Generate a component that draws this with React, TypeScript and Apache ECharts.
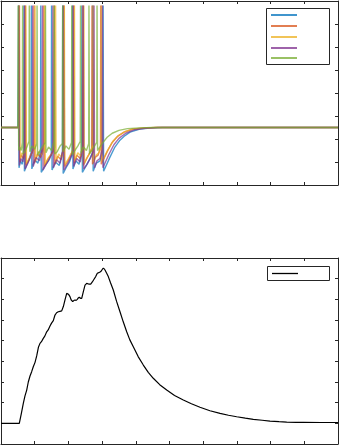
import React, { useEffect, useRef } from "react";
import * as echarts from "echarts";

// ---------- Top panel: membrane potential traces ----------
const traceColors = ["#0072BD", "#D95319", "#EDB120", "#7E2F8E", "#77AC30"];
const restV = -50;
const stimOnset = 50;
const spikePeak = 56;

const blueSpikes = [52, 68, 90, 118, 150, 183, 212, 240, 272, 303];
const blueTroughs = [-85, -88, -86, -89, -87, -90, -86, -89, -88, -88];
const bluePre = [-50, -71, -72, -70, -73, -71, -73, -70, -72, -71];
const blueMids = [-79, -82, -83, -78, -78, -81, -84, -79, -80, -83, -85, -80, -79, -82, -84, -78, -81, -79];
const blueRecovery = [[323, -76], [338, -67], [353, -61], [368, -57], [383, -54], [412, -51.3], [442, -50.4], [480, -50], [1000, -50]];

const orangeSpikes = [54, 72, 98, 127, 158, 187, 216, 243, 270, 296];
const orangeTroughs = [-80, -83, -81, -84, -82, -84, -81, -83, -82, -82];
const orangePre = [-50, -67, -68, -66, -69, -67, -68, -66, -68, -67];
const orangeMids = [-74, -77, -79, -73, -73, -76, -78, -74, -75, -78, -80, -74, -74, -77, -78, -73, -76, -74];
const orangeRecovery = [[315, -71], [330, -63], [345, -58], [365, -54], [390, -51.5], [420, -50.5], [460, -50], [1000, -50]];

const yellowSpikes = [55, 74, 101, 130, 162, 188, 218, 246, 274, 298];
const yellowTroughs = [-78, -81, -79, -82, -80, -82, -79, -81, -80, -80];
const yellowPre = [-50, -66, -65, -67, -66, -65, -67, -66, -65, -66];
const yellowMids = [-72, -75, -77, -71, -71, -74, -76, -72, -73, -76, -78, -72, -72, -75, -76, -71, -74, -72];
const yellowRecovery = [[317, -69.5], [332, -62], [348, -57], [368, -53.5], [393, -51.3], [425, -50.4], [460, -50], [1000, -50]];

const purpleSpikes = [53, 70, 94, 123, 154, 185, 214, 244, 276, 301];
const purpleTroughs = [-83, -86, -84, -87, -85, -87, -84, -86, -85, -85];
const purplePre = [-50, -69, -70, -68, -70, -69, -71, -68, -70, -69];
const purpleMids = [-77, -80, -82, -76, -76, -79, -82, -77, -78, -81, -83, -77, -77, -80, -82, -76, -79, -77];
const purpleRecovery = [[320, -73.5], [335, -65], [350, -59.5], [370, -55], [395, -52], [428, -50.6], [465, -50], [1000, -50]];

const greenSpikes = [51, 64, 84, 107, 132, 158, 183, 210, 236, 261, 285];
const greenTroughs = [-70, -73, -71, -74, -72, -73, -71, -74, -72, -73, -70];
const greenPre = [-50, -63, -62, -64, -63, -62, -64, -63, -62, -64, -63];
const greenMids = [-67, -70, -71, -66, -66, -69, -70, -66, -67, -70, -71, -66, -66, -69, -70, -66, -67, -70, -70, -66];
const greenRecovery = [[300, -64], [315, -58.5], [330, -55], [350, -52.5], [375, -51], [410, -50.3], [450, -50], [1000, -50]];

// ---------- Bottom panel: slow variable ----------
const slowTime = [0, 54.3, 60, 66.2, 71, 76.3, 81, 86.1, 91, 95.8, 101, 105.9, 111, 115.7, 120, 125.5, 130, 135.6, 140, 145.4, 150, 155.2, 160.2, 165, 170, 175, 180.1, 185, 189.9, 195, 200, 204.7, 208, 212.8, 216, 219.6, 223, 226.4, 229, 232.3, 236, 239.5, 244, 249.3, 254.3, 260, 266.2, 271, 276, 281, 285.8, 290, 293.8, 297, 301.8, 303.6, 306, 308.6, 313.6, 318.4, 325, 333.2, 343, 353.1, 363, 373, 382, 392.6, 407, 422.3, 437, 451.9, 471, 491.7, 515, 541, 565, 590.5, 620, 649.9, 675, 699.4, 725, 748.7, 775, 798.2, 825, 847.8, 875, 897, 950, 1000];
const slowValue = [0.1, 0.1, 0.145, 0.197, 0.232, 0.261, 0.3, 0.329, 0.35, 0.374, 0.395, 0.426, 0.468, 0.487, 0.495, 0.511, 0.522, 0.543, 0.552, 0.571, 0.585, 0.597, 0.624, 0.635, 0.64, 0.642, 0.644, 0.665, 0.697, 0.729, 0.725, 0.713, 0.698, 0.689, 0.694, 0.697, 0.695, 0.7, 0.706, 0.71, 0.705, 0.705, 0.735, 0.769, 0.777, 0.774, 0.774, 0.784, 0.797, 0.81, 0.826, 0.829, 0.832, 0.836, 0.848, 0.85, 0.848, 0.842, 0.826, 0.81, 0.78, 0.745, 0.69, 0.64, 0.59, 0.543, 0.505, 0.471, 0.423, 0.382, 0.347, 0.318, 0.287, 0.261, 0.235, 0.213, 0.195, 0.178, 0.161, 0.148, 0.139, 0.132, 0.125, 0.119, 0.115, 0.111, 0.108, 0.106, 0.105, 0.105, 0.104, 0.104];

const legendLineYs = [15, 26, 37, 48, 58];

function buildTrace(spikes: number[], troughs: number[], pre: number[], mids: number[], recovery: number[][]) {
  const pts: number[][] = [[0, restV], [stimOnset, restV]];
  for (let i = 0; i < spikes.length; i++) {
    const t = spikes[i];
    pts.push([t - 0.8, pre[i]]);
    pts.push([t, spikePeak]);
    pts.push([t + 1.5, troughs[i]]);
    if (i < spikes.length - 1) {
      const isi = spikes[i + 1] - t;
      pts.push([t + isi * 0.35, mids[2 * i]]);
      pts.push([t + isi * 0.7, mids[2 * i + 1]]);
    }
  }
  recovery.forEach((p) => pts.push(p));
  return pts;
}

const axisColor = "#262626";

function axisBase(extra: any) {
  return {
    axisLine: { show: true, onZero: false, lineStyle: { color: axisColor, width: 1 } },
    axisTick: { show: true, inside: true, length: 3, lineStyle: { color: axisColor, width: 1 } },
    axisLabel: { show: false },
    splitLine: { show: false },
    ...extra,
  };
}

export default function App() {
  const ref = useRef<HTMLDivElement>(null);
  useEffect(() => {
    if (!ref.current) return;
    const chart = echarts.init(ref.current, undefined, { renderer: "svg" });
    const traces = [
      buildTrace(blueSpikes, blueTroughs, bluePre, blueMids, blueRecovery),
      buildTrace(orangeSpikes, orangeTroughs, orangePre, orangeMids, orangeRecovery),
      buildTrace(yellowSpikes, yellowTroughs, yellowPre, yellowMids, yellowRecovery),
      buildTrace(purpleSpikes, purpleTroughs, purplePre, purpleMids, purpleRecovery),
      buildTrace(greenSpikes, greenTroughs, greenPre, greenMids, greenRecovery),
    ];
    const xCommon = { type: "value", min: 0, max: 1000, interval: 100 };
    const topY = { type: "value", min: -100, max: 60, interval: 20 };
    const botY = { type: "value", min: 0, max: 0.9, interval: 0.1 };

    const graphics: any[] = [
      {
        type: "rect",
        z: 100,
        shape: { x: 266.5, y: 8.5, width: 63, height: 56 },
        style: { fill: "#fff", stroke: axisColor, lineWidth: 1 },
      },
      ...traceColors.map((c, i) => ({
        type: "line",
        z: 101,
        shape: { x1: 271, y1: legendLineYs[i], x2: 297, y2: legendLineYs[i] },
        style: { stroke: c, lineWidth: 1.5 },
      })),
      {
        type: "rect",
        z: 100,
        shape: { x: 267.5, y: 266.5, width: 62, height: 14 },
        style: { fill: "#fff", stroke: axisColor, lineWidth: 1 },
      },
      {
        type: "line",
        z: 101,
        shape: { x1: 272, y1: 273.5, x2: 298, y2: 273.5 },
        style: { stroke: "#000", lineWidth: 1.3 },
      },
    ];

    chart.setOption({
      animation: false,
      grid: [
        { left: 1, top: 1, width: 337, height: 184 },
        { left: 1, top: 258, width: 337, height: 186 },
      ],
      xAxis: [
        axisBase({ ...xCommon, gridIndex: 0, position: "bottom" }),
        axisBase({ ...xCommon, gridIndex: 0, position: "top" }),
        axisBase({ ...xCommon, gridIndex: 1, position: "bottom" }),
        axisBase({ ...xCommon, gridIndex: 1, position: "top" }),
      ],
      yAxis: [
        axisBase({ ...topY, gridIndex: 0, position: "left" }),
        axisBase({ ...topY, gridIndex: 0, position: "right" }),
        axisBase({ ...botY, gridIndex: 1, position: "left" }),
        axisBase({ ...botY, gridIndex: 1, position: "right" }),
      ],
      series: [
        ...traces.map((d, i) => ({
          type: "line",
          xAxisIndex: 0,
          yAxisIndex: 0,
          data: d,
          showSymbol: false,
          symbol: "none",
          clip: true,
          lineStyle: { color: traceColors[i], width: 1.4, opacity: 0.7 },
          itemStyle: { color: traceColors[i] },
        })),
        {
          type: "line",
          xAxisIndex: 2,
          yAxisIndex: 2,
          data: slowTime.map((t, i) => [t, slowValue[i]]),
          showSymbol: false,
          symbol: "none",
          lineStyle: { color: "#000", width: 1.2 },
        },
      ],
      graphic: graphics,
    });
    return () => chart.dispose();
  }, []);
  return (
    <div
      ref={ref}
      style={{ position: "fixed", left: 0, top: 0, width: 339, height: 445, background: "#fff" }}
    />
  );
}
